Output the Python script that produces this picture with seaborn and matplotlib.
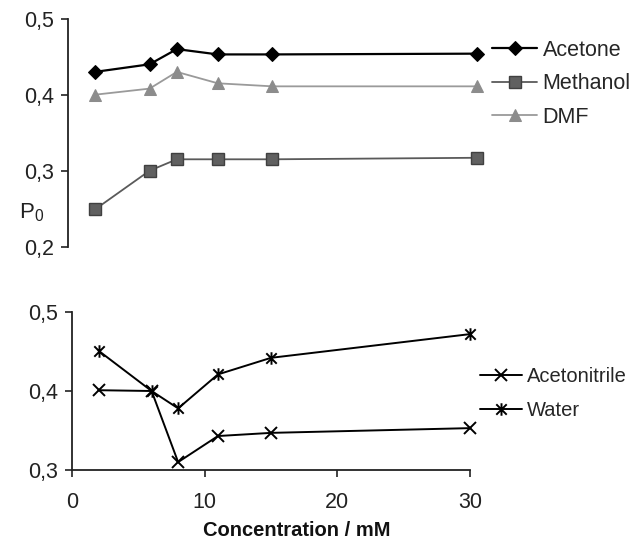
import matplotlib
matplotlib.use('Agg')
import matplotlib.pyplot as plt
import seaborn as sns
import numpy as np
from matplotlib.path import Path

# concentrations (mM)
conc = [2, 6, 8, 11, 15, 30]

# top panel
acetone = [0.430, 0.440, 0.460, 0.453, 0.453, 0.454]
methanol = [0.249, 0.300, 0.315, 0.315, 0.315, 0.317]
dmf = [0.400, 0.408, 0.430, 0.415, 0.411, 0.411]

# bottom panel
acetonitrile = [0.401, 0.400, 0.310, 0.343, 0.347, 0.353]
water = [0.451, 0.400, 0.378, 0.421, 0.442, 0.472]

top_yticks = [0.2, 0.3, 0.4, 0.5]
bot_yticks = [0.3, 0.4, 0.5]
xticks = [0, 10, 20, 30]

sns.set_style('white')
plt.rcParams['font.family'] = ['Liberation Sans', 'DejaVu Sans']
plt.rcParams['mathtext.default'] = 'regular'

# Excel-like star: an x with a vertical bar
star = Path([(-1, -1), (1, 1), (-1, 1), (1, -1), (0, -1.2), (0, 1.2)],
            [Path.MOVETO, Path.LINETO, Path.MOVETO, Path.LINETO, Path.MOVETO, Path.LINETO])

fig = plt.figure(figsize=(6.34, 5.47), dpi=100)
ax1 = fig.add_axes([67.7 / 634, 1 - 246.7 / 547, 409.3 / 634, 228 / 547])
ax2 = fig.add_axes([72 / 634, 1 - 470 / 547, 398 / 634, 158 / 547])

sns.lineplot(x=conc, y=acetone, ax=ax1, color='black', lw=1.6, marker='D', ms=7,
             mfc='black', mec='black', label='Acetone', clip_on=False)
sns.lineplot(x=conc, y=methanol, ax=ax1, color='#5a5a5a', lw=1.3, marker='s', ms=8,
             mfc='#606060', mec='#404040', mew=1, label='Methanol', clip_on=False)
sns.lineplot(x=conc, y=dmf, ax=ax1, color='#9a9a9a', lw=1.3, marker='^', ms=9,
             mfc='#8c8c8c', mec='#8c8c8c', label='DMF', clip_on=False)

sns.lineplot(x=conc, y=acetonitrile, ax=ax2, color='black', lw=1.4, marker='x', ms=9,
             mew=1.4, mec='black', label='Acetonitrile', clip_on=False)
sns.lineplot(x=conc, y=water, ax=ax2, color='black', lw=1.4, marker=star, ms=9,
             mew=1.4, mec='black', label='Water', clip_on=False)

for ax in (ax1, ax2):
    ax.set_xlim(0, 30)
    ax.tick_params(axis='both', direction='out', length=5, width=1.2, labelsize=15.5,
                   left=True, bottom=True, colors='#222222', pad=5)
    ax.spines['right'].set_visible(False)
    ax.spines['top'].set_visible(False)
    ax.spines['left'].set_linewidth(1.3)
    ax.spines['left'].set_color('#222222')
    ax.set_xlabel('')
    ax.set_ylabel('')

ax1.set_ylim(0.2, 0.5)
ax1.set_yticks(top_yticks)
ax1.set_yticklabels([f'{v:.1f}'.replace('.', ',') for v in top_yticks])
ax1.set_xticks([])
ax1.spines['bottom'].set_visible(False)

ax2.set_ylim(0.3, 0.5)
ax2.set_yticks(bot_yticks)
ax2.set_yticklabels([f'{v:.1f}'.replace('.', ',') for v in bot_yticks])
ax2.set_xticks(xticks)
ax2.set_xticklabels([str(v) for v in xticks])
ax2.tick_params(axis='x', pad=11)
ax2.spines['bottom'].set_linewidth(1.3)
ax2.spines['bottom'].set_color('#222222')

leg_kw = dict(frameon=False, handlelength=2.1, handletextpad=0.25,
              borderpad=0, borderaxespad=0, loc='upper left')
ax1.legend(bbox_to_anchor=(492 / 634, 1 - 40 / 547), bbox_transform=fig.transFigure,
           fontsize=15.5, labelspacing=0.58, **leg_kw)
ax2.legend(bbox_to_anchor=(480 / 634, 1 - 367 / 547), bbox_transform=fig.transFigure,
           fontsize=14.5, labelspacing=0.75, **leg_kw)

fig.text(32 / 634, 1 - 213 / 547, 'P$_0$', fontsize=16, ha='center', va='center', color='#222222')
fig.text(297 / 634, 1 - 530 / 547, 'Concentration / mM', fontsize=14.5, fontweight='bold',
         ha='center', va='center', color='#111111')

fig.savefig('out.png', dpi=100)
